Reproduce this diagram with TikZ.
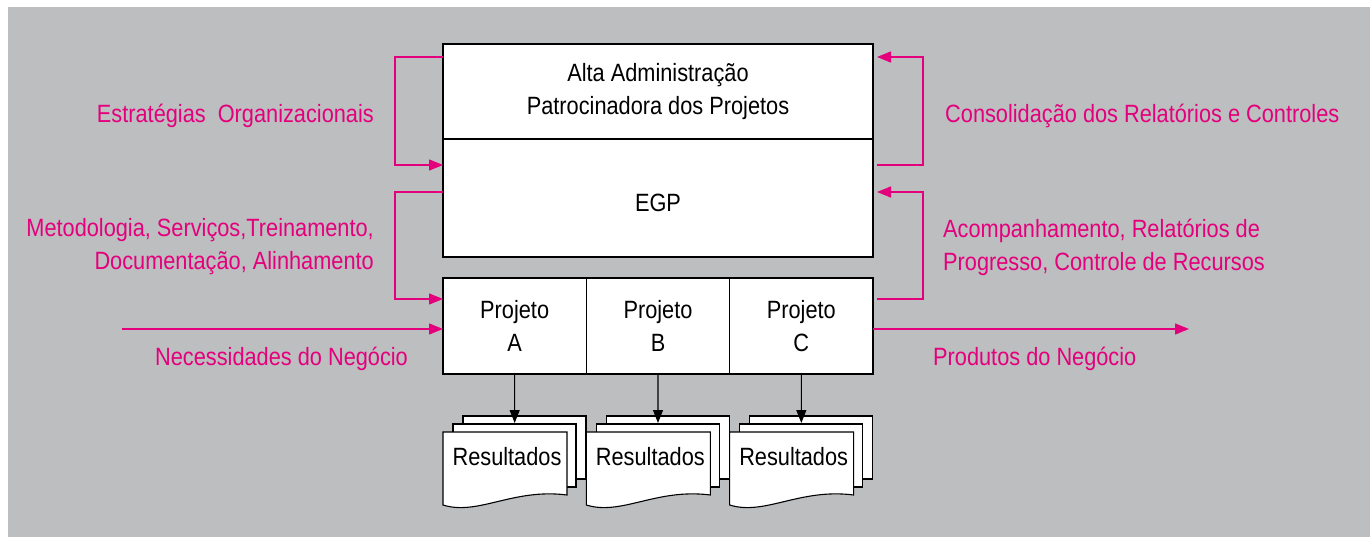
\documentclass[tikz,border=0pt]{standalone}
\usepackage{fontspec}
\setmainfont{Liberation Sans}[FakeStretch=0.87]
\usetikzlibrary{arrows.meta, positioning}

\definecolor{cinza}{HTML}{BDBEC0}
\definecolor{rosa}{HTML}{E4007C}

\begin{document}
\begin{tikzpicture}[x=1pt, y=-1pt,
        every node/.style={font=\fontsize{25}{33}\selectfont},
        bloco/.style={draw, line width=1.1pt, fill=white, outer sep=0pt,
            minimum width=430pt, inner sep=0pt, align=center},
        projeto/.style={draw, line width=1.1pt, fill=white, outer sep=0pt,
            minimum width=143.33pt, minimum height=96pt, inner sep=0pt, align=center},
        folha/.style={draw, line width=1.1pt, fill=white},
        fluxo/.style={draw=rosa, line width=1.3pt, -{Triangle[length=14pt, width=11pt]}},
        seta/.style={draw, line width=1.1pt, -{Triangle[length=13pt, width=10pt]}},
        rotulo/.style={text=rosa, inner xsep=0pt}]

        \useasboundingbox (0,0) rectangle (1372,537);
        \fill[cinza] (8,7) rectangle (1370,537);

        \node[bloco, minimum height=95pt, anchor=north west] (alta) at (443,44)
            {Alta Administração\\Patrocinadora dos Projetos};
        \node[bloco, minimum height=118pt, text height=28pt, text depth=0pt, below=0pt of alta] (egp) {EGP};

        \node[projeto, anchor=north west] (pa) at (443,278) {Projeto\\A};
        \node[projeto, right=0pt of pa] (pb) {Projeto\\B};
        \node[projeto, right=0pt of pb] (pc) {Projeto\\C};

        \foreach \p in {a,b,c}{
            \begin{scope}[shift={(p\p.south west)}]
                \draw[folha] (20,42) rectangle (143,105);
                \draw[folha] (10,50) rectangle (133,113);
                \draw[folha] (0,58) -- (124,58) -- (124,121)
                    .. controls (70,114) and (35,142) .. (0,131) -- cycle;
                \node (r\p) at (64,83) {Resultados};
                \coordinate (t\p) at (71.67,49);
            \end{scope}
            \draw[seta] (p\p.south) -- (t\p);
        }

        \draw[fluxo] ([yshift=-13pt]alta.north west) -- ++(-48,0) |- ([yshift=-26pt]egp.north west);
        \draw[fluxo] ([yshift=-53pt]egp.north west) -- ++(-48,0) |- ([yshift=-21pt]pa.north west);
        \draw[fluxo] ([shift={(4pt,-26pt)}]egp.north east) -- ++(46,0) |- ([shift={(4pt,-13pt)}]alta.north east);
        \draw[fluxo] ([shift={(4pt,-21pt)}]pc.north east) -- ++(46,0) |- ([shift={(4pt,-53pt)}]egp.north east);

        \coordinate (entrada) at (122,329);
        \coordinate (saida) at (1189,329);
        \draw[fluxo] (entrada) -- (entrada -| pa.west);
        \draw[fluxo] (saida -| pc.east) -- (saida);

        \node[rotulo, anchor=base east] (estrategias) at (374,123) {Estratégias\ \ Organizacionais};
        \node[rotulo, anchor=east, align=right] (metodologia) at (374,247)
            {Metodologia, Serviços,Treinamento,\\Documentação, Alinhamento};
        \node[rotulo, anchor=base west] (necessidades) at (155,365) {Necessidades do Negócio};
        \node[rotulo, anchor=base west] (consolidacao) at (945,123) {Consolidação dos Relatórios e Controles};
        \node[rotulo, anchor=west, align=left] (acompanhamento) at (943,247)
            {Acompanhamento, Relatórios de\\Progresso, Controle de Recursos};
        \node[rotulo, anchor=base west] (produtos) at (933,365) {Produtos do Negócio};
\end{tikzpicture}
\end{document}
